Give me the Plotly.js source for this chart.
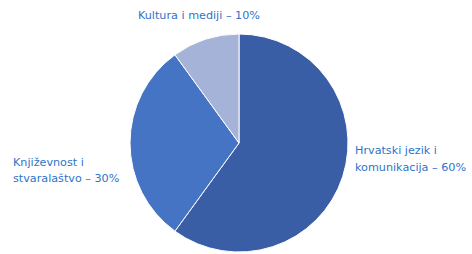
<!DOCTYPE html>
<html><head><meta charset="utf-8">
<script src="https://cdn.plot.ly/plotly-3.0.1.min.js"></script>
<style>html,body{margin:0;padding:0;background:#fff}</style>
</head><body><div id="chart" style="width:472px;height:254px"></div>
<script>
var labels = ["Hrvatski jezik i komunikacija", "Književnost i stvaralaštvo", "Kultura i mediji"];
var labelLines = [["Hrvatski jezik i", "komunikacija"], ["Književnost i", "stvaralaštvo"], ["Kultura i mediji"]];
var values = [60, 30, 10];
var colors = ["#3a5ea6", "#4574c4", "#a6b3d8"];

var annPos = [
  {x: 353, ys: [150, 167], xanchor: "left"},
  {x: 11, ys: [162, 178], xanchor: "left"},
  {x: 199, ys: [15], xanchor: "center"}
];
var annotations = [];
labels.forEach(function(l, i){
  var t = labelLines[i].slice();
  t[t.length-1] = t[t.length-1] + " – " + values[i] + "%";
  t.forEach(function(line, j){
    annotations.push({
      text: line, showarrow: false,
      xref: "paper", yref: "paper",
      x: annPos[i].x/472, y: 1 - annPos[i].ys[j]/254,
      xanchor: annPos[i].xanchor, yanchor: "middle",
      font: {family: "DejaVu Sans, sans-serif", size: 11.2, color: "#2f74c8"}
    });
  });
});

Plotly.newPlot("chart", [{
  type: "pie", labels: labels, values: values, sort: false,
  direction: "clockwise", rotation: 0,
  marker: {colors: colors, line: {color: "#ffffff", width: 1}},
  textinfo: "none", hoverinfo: "none",
  domain: {x: [130/472, 348/472], y: [2/254, 220/254]}
}], {
  width: 472, height: 254, showlegend: false,
  margin: {l: 0, r: 0, t: 0, b: 0},
  paper_bgcolor: "#fff",
  annotations: annotations
}, {staticPlot: true});
</script></body></html>
